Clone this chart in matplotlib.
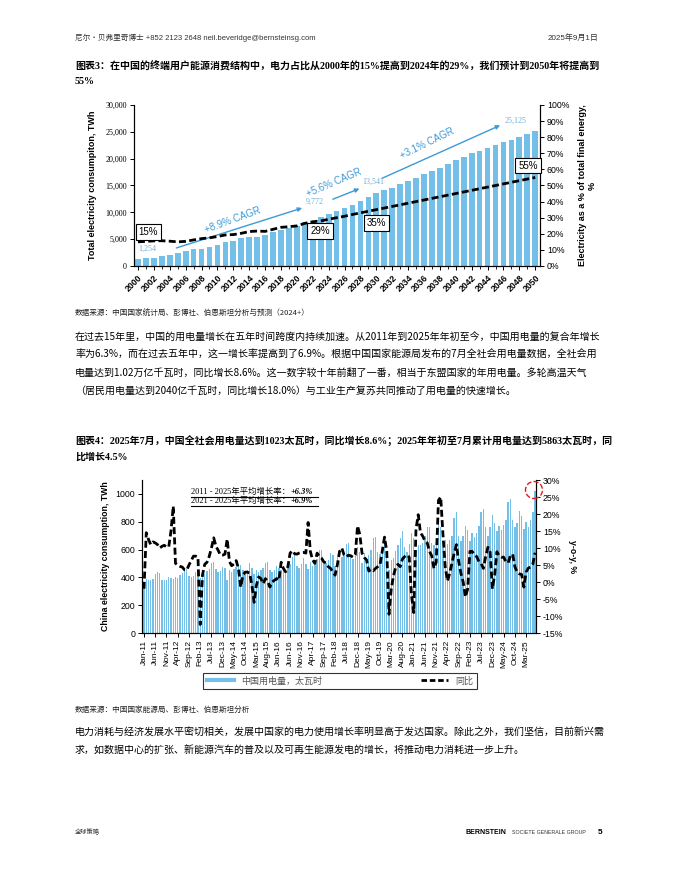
import matplotlib
matplotlib.use('Agg')
import matplotlib.pyplot as plt
from matplotlib.lines import Line2D
from matplotlib.patches import Ellipse
import pandas as pd

SANS = ['Liberation Sans', 'Noto Sans CJK SC']
SERIF = ['Liberation Serif', 'Noto Sans CJK SC']
CJK = ['Noto Sans CJK SC', 'Liberation Sans']
plt.rcParams['font.family'] = SANS

# ---- 图表3 数据 ----
years = list(range(2000, 2051))
total_twh = [1254, 1420, 1540, 1790, 2090, 2340, 2710, 3080, 3260, 3510,
             3940, 4430, 4680, 5170, 5480, 5480, 5790, 6280, 6710, 7080,
             7390, 8130, 8440, 9050, 9772, 10290, 10840, 11400, 12100, 12830,
             13541, 14070, 14570, 15250, 15800, 16430, 17050, 17670, 18350, 19030,
             19770, 20400, 21000, 21500, 22000, 22560, 23060, 23550, 24110, 24610,
             25125]
elec_share = [15.0, 15.3, 15.6, 15.7, 15.4, 15.0, 15.3, 16.2, 17.0, 17.5,
              18.3, 19.3, 19.5, 20.3, 21.4, 21.7, 21.5, 22.8, 24.0, 24.4,
              24.9, 26.5, 27.5, 28.0, 29.0, 30.0, 30.9, 32.0, 33.0, 34.0,
              35.0, 36.0, 37.0, 38.0, 39.0, 40.0, 41.0, 42.0, 43.0, 44.0,
              45.0, 46.0, 47.0, 48.0, 49.0, 50.0, 51.0, 52.0, 53.0, 54.0,
              55.0]
labelled_years = [2000, 2024, 2030, 2050]
share_boxes = [2000, 2024, 2030, 2050]
cagr_text = ['+8.9% CAGR', '+5.6% CAGR', '+3.1% CAGR']

# ---- 图表4 数据 (太瓦时, 2011年1月 - 2025年7月) ----
m2011 = [318, 385, 378, 380, 388, 425, 435, 428, 382, 378, 380, 405]
m2012 = [395, 388, 405, 398, 418, 430, 455, 460, 410, 405, 412, 440]
m2013 = [430, 395, 432, 425, 445, 462, 505, 512, 458, 442, 448, 478]
m2014 = [470, 382, 452, 440, 462, 478, 498, 492, 452, 445, 455, 500]
m2015 = [470, 425, 455, 437, 455, 468, 505, 510, 455, 440, 450, 485]
m2016 = [470, 450, 480, 450, 475, 495, 550, 560, 480, 470, 495, 540]
m2017 = [495, 460, 510, 480, 505, 530, 600, 595, 510, 500, 525, 575]
m2018 = [560, 480, 545, 515, 550, 575, 640, 645, 550, 535, 555, 620]
m2019 = [580, 500, 575, 540, 560, 600, 680, 690, 585, 565, 590, 660]
m2020 = [560, 450, 525, 540, 590, 630, 680, 730, 620, 580, 640, 720]
m2021 = [680, 600, 630, 630, 650, 700, 760, 760, 650, 630, 650, 790]
m2022 = [760, 620, 670, 640, 670, 700, 830, 870, 700, 665, 700, 770]
m2023 = [740, 660, 720, 690, 720, 770, 870, 890, 760, 700, 760, 850]
m2024 = [790, 730, 770, 740, 780, 810, 940, 965, 810, 760, 790, 880]
m2025 = [840, 750, 800, 760, 810, 870, 1023]
monthly_twh = (m2011 + m2012 + m2013 + m2014 + m2015 + m2016 + m2017 + m2018
               + m2019 + m2020 + m2021 + m2022 + m2023 + m2024 + m2025)

yoy = [-2, 14.5, 12.5, 11, 11.8, 11.5, 11, 10, 10.5, 10.8, 10.3, 10.3,
       15, 22.3, 5.5, 5, 4.6, 4.4, 3.6, 3.5, 5, 6.3, 7.6, 7.6,
       7.3, -12.5, 2, 5.2, 5.8, 7.5, 10, 13, 10.5, 9.3, 7.9, 7.9,
       8.2, 12.6, 6, 4.8, 5.3, 6.3, 4, -1.5, 2, 2.9, 2.9, 2.6,
       -1, -6, -1, 1.5, 1, -0.5, 1, 0.2, -1.5, 0, 0.5, 1,
       0.5, 5.8, 4, 3, 4.5, 8.5, 9.2, 8.3, 8.2, 8.5, 8.7, 8.7,
       8.5, 17.5, 9, 6.5, 5.5, 8.5, 7.5, 7, 5.9, 5.6, 4.5, 4,
       3, 2, 5, 9, 10, 8, 7.4, 7.9, 7.7, 7.3, 8, 16.5,
       14, 8.5, 7.2, 6.5, 3.2, 3.8, 3.3, 4, 4.5, 5, 9, 13.2,
       9, -9.5, -2, 1.9, 4.3, 5.2, 4.5, 6.8, 7.5, 8, 7.3, -4,
       -9, 15.5, 19.8, 14.5, 13.5, 12, 11.5, 9, 7.7, 4, 5.8, 24,
       25, 14, 4.5, 0.3, 2.5, 5.5, 8.5, 11, 6, 2.5, 0, -4.4,
       -2, 9, 9, 7.9, 7.5, 6, 5.4, 4, 7.5, 10.2, 8.8, -2,
       2, 8.9, 7.7, 7.3, 7.3, 6, 5.6, 7.7, 8.2, 4.5, 2.9, 2.4,
       2.2, -1.5, 2.9, 4.1, 4.4, 5.3, 8.6]
months = pd.date_range('2011-01-01', periods=len(monthly_twh), freq='MS')
month_labels = [d.strftime('%b-%y') for d in months]
cagr_lines = [('2011 - 2025年平均增长率：', '+6.3%'),
              ('2021 - 2025年平均增长率：', '+6.9%')]
legend_labels = ['中国用电量，太瓦时', '同比']

BAR = '#74BFE7'
BLUE = '#3C9AD6'
W, H = 680, 880


def fx(x):
    return x / W


def fy(y):
    return 1 - y / H


fig = plt.figure(figsize=(6.8, 8.8), dpi=100)

# 页眉 / 页脚
fig.text(fx(75), fy(38), '尼尔・贝弗里奇博士 +852 2123 2648 neil.beveridge@bernsteinsg.com',
         fontsize=5.5, color='#333333', va='center')
fig.text(fx(598), fy(38), '2025年9月1日', fontsize=5.8, color='#333333', va='center', ha='right')
fig.text(fx(75), fy(832), '全球策略', fontsize=4.5, color='#333333', va='center', family=CJK)
fig.text(fx(465), fy(832), 'BERNSTEIN', fontsize=5, weight='bold', va='center')
fig.text(fx(512), fy(832), 'SOCIETE GENERALE GROUP', fontsize=3.8, va='center', color='#333333')
fig.text(fx(602), fy(832), '5', fontsize=6, weight='bold', va='center', ha='right')

# 标题
fig.text(fx(75), fy(65), '图表3：在中国的终端用户能源消费结构中，电力占比从2000年的15%提高到2024年的29%，我们预计到2050年将提高到',
         fontsize=7.2, weight='bold', family=SERIF, va='center')
fig.text(fx(75), fy(82), '55%', fontsize=7.2, weight='bold', family=SERIF, va='center')
fig.text(fx(75), fy(314), '数据来源：中国国家统计局、彭博社、伯恩斯坦分析与预测（2024+）',
         fontsize=5.5, va='center', family=CJK, color='#222222')

para1 = ['在过去15年里，中国的用电量增长在五年时间跨度内持续加速。从2011年到2025年年初至今，中国用电量的复合年增长',
         '率为6.3%，而在过去五年中，这一增长率提高到了6.9%。根据中国国家能源局发布的7月全社会用电量数据，全社会用',
         '电量达到1.02万亿千瓦时，同比增长8.6%。这一数字较十年前翻了一番，相当于东盟国家的年用电量。多轮高温天气',
         '（居民用电量达到2040亿千瓦时，同比增长18.0%）与工业生产复苏共同推动了用电量的快速增长。']
for k, line in enumerate(para1):
    fig.text(fx(75), fy(337 + 18 * k), line, fontsize=7.2, va='center', family=CJK)

fig.text(fx(75), fy(441), '图表4：2025年7月，中国全社会用电量达到1023太瓦时，同比增长8.6%；2025年年初至7月累计用电量达到5863太瓦时，同',
         fontsize=7.2, weight='bold', family=SERIF, va='center')
fig.text(fx(75), fy(457), '比增长4.5%', fontsize=7.2, weight='bold', family=SERIF, va='center')
fig.text(fx(75), fy(710), '数据来源：中国国家能源局、彭博社、伯恩斯坦分析',
         fontsize=5.5, va='center', family=CJK, color='#222222')
para2 = ['电力消耗与经济发展水平密切相关，发展中国家的电力使用增长率明显高于发达国家。除此之外，我们坚信，目前新兴需',
         '求，如数据中心的扩张、新能源汽车的普及以及可再生能源发电的增长，将推动电力消耗进一步上升。']
for k, line in enumerate(para2):
    fig.text(fx(75), fy(733 + 18 * k), line, fontsize=7.2, va='center', family=CJK)

# ================= 图表3 =================
ax1 = fig.add_axes([fx(134), fy(266), (540 - 134) / W, (266 - 105) / H])
ax1.bar(years, total_twh, width=0.72, color=BAR, zorder=1)
ax1.set_xlim(1999.5, 2050.6)
ax1.set_ylim(0, 30000)
ax1.set_yticks(range(0, 30001, 5000))
ax1.set_yticklabels([f'{v:,}' for v in range(0, 30001, 5000)], family=SERIF, fontsize=5.8)
ax1.set_xticks(years, minor=True)
ax1.set_xticks(years[::2])
ax1.set_xticklabels([str(y) for y in years[::2]], rotation=45, ha='right',
                    rotation_mode='anchor', fontsize=6.3, weight='bold')
ax1.tick_params(axis='both', direction='out', length=3, width=0.7, pad=2)
ax1.tick_params(axis='x', which='minor', length=2, width=0.6)
ax1.spines['top'].set_visible(False)
ax1.set_ylabel('Total electricity consumpiton, TWh', fontsize=6.5, weight='bold', labelpad=6)

ax2 = ax1.twinx()
ax2.plot(years, elec_share, color='black', lw=2, ls=(0, (2.5, 1.2)), zorder=3)
ax2.set_ylim(0, 100)
ax2.set_yticks(range(0, 101, 10))
ax2.set_yticklabels([f'{v}%' for v in range(0, 101, 10)], fontsize=6.3)
ax2.tick_params(axis='y', direction='out', length=3, width=0.7, pad=2)
ax2.spines['top'].set_visible(False)
ax2.set_ylabel('Electricity as a % of total final energy,\n%', fontsize=6.5, weight='bold', labelpad=6)

# 数值标签
label_pos = {2000: (2001.2, 3200), 2024: (2022.3, 11900), 2030: (2029.6, 15600), 2050: (2047.5, 27050)}
for y in labelled_years:
    v = total_twh[years.index(y)]
    ax2.text(label_pos[y][0], label_pos[y][1] / 300, f'{v:,}', family=SERIF, fontsize=5.8,
             color='#6FAEDD', ha='center', va='center', zorder=6)

# 占比方框
box_pos = {2000: (2001.3, 21), 2024: (2022.9, 21.7), 2030: (2030.0, 26.6), 2050: (2049.1, 62.4)}
for y in share_boxes:
    v = elec_share[years.index(y)]
    ax2.text(*box_pos[y], f'{v:.0f}%', fontsize=7, ha='center', va='center', zorder=5,
             bbox=dict(boxstyle='square,pad=0.3', fc='white', ec='black', lw=0.8))

# CAGR 箭头
arrows = [((2004.5, 3200), (2021.0, 10960)),
          ((2024.2, 12250), (2028.2, 14600)),
          ((2030.4, 16130), (2045.9, 26420))]
cagr_pos = [((2011.9, 8570), 20), ((2024.7, 15530), 23), ((2036.4, 22800), 26)]
for (start, end), txt, (pos, rot) in zip(arrows, cagr_text, cagr_pos):
    ax1.annotate('', xy=end, xytext=start,
                 arrowprops=dict(arrowstyle='-|>', color=BLUE, lw=1, mutation_scale=6))
    ax1.text(*pos, txt, color=BLUE, fontsize=7, rotation=rot, ha='center', va='center')

# ================= 图表4 =================
ax3 = fig.add_axes([fx(142), fy(633), (536 - 142) / W, (633 - 480) / H])
idx = list(range(len(monthly_twh)))
ax3.bar(idx, monthly_twh, width=0.62, color=BAR, zorder=1)
ax3.set_xlim(-0.9, 174.4)
ax3.set_ylim(0, 1100)
ax3.set_yticks(range(0, 1001, 200))
ax3.set_yticklabels([str(v) for v in range(0, 1001, 200)], fontsize=6.3)
ax3.set_xticks(idx[::5])
ax3.set_xticklabels(month_labels[::5], rotation=90, fontsize=6)
ax3.tick_params(axis='both', direction='out', length=3, width=0.7, pad=2)
ax3.spines['top'].set_visible(False)
ax3.set_ylabel('China electricity consumption, TWh', fontsize=6.3, weight='bold', labelpad=4)

ax4 = ax3.twinx()
ax4.plot(idx, yoy, color='black', lw=2, ls=(0, (2.5, 1.2)), zorder=3)
ax4.set_ylim(-15, 30)
ax4.set_yticks(range(-15, 31, 5))
ax4.set_yticklabels([f'{v}%' for v in range(-15, 31, 5)], fontsize=6.3)
ax4.tick_params(axis='y', direction='out', length=3, width=0.7, pad=2)
ax4.spines['top'].set_visible(False)
ax4.set_ylabel('y-o-y, %', fontsize=6.3, weight='bold', rotation=270, labelpad=10)

# 平均增长率说明
for k, (pre, num) in enumerate(cagr_lines):
    t = fig.text(fx(191), fy(492 + 9 * k), pre, family=SERIF, fontsize=6, va='center')
    ax3.annotate(num, xy=(1, 0.5), xycoords=t, va='center', ha='left',
                 family=SERIF, fontsize=6, style='italic', weight='bold')
    fig.add_artist(Line2D([fx(191), fx(318)], [fy(497 + 9 * k)] * 2, color='black', lw=0.8))

fig.add_artist(Ellipse((fx(534), fy(490)), 17 / W, 17 / H, transform=fig.transFigure,
                       fill=False, ec='#D62020', ls='--', lw=1))

handles = [Line2D([], [], color=BAR, lw=3),
           Line2D([], [], color='black', lw=2, ls=(0, (2, 1)))]
leg = fig.legend(handles, legend_labels, loc='center', bbox_to_anchor=(fx(340), fy(681)),
                 ncol=2, frameon=True, fancybox=False, edgecolor='black', columnspacing=11,
                 handlelength=3, borderpad=0.35, prop={'family': SERIF, 'size': 6.5},
                 labelcolor='#555555')
leg.get_frame().set_linewidth(0.8)

fig.savefig('out.png', dpi=100)
